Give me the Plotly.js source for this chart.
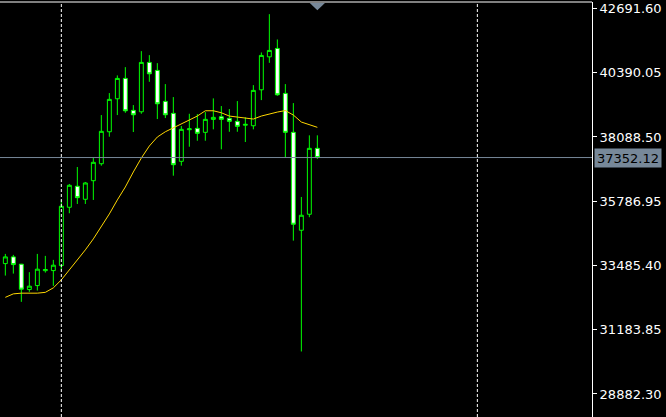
<!DOCTYPE html>
<html>
<head>
<meta charset="utf-8">
<script src="https://cdn.plot.ly/plotly-3.0.1.min.js"></script>
<style>html,body{margin:0;padding:0;background:#000;}#chart{width:666px;height:417px;}</style>
</head>
<body>
<div id="chart"></div>
<script>
// OHLC values (one bar per entry)
const openV = [33553, 33793, 33532, 32623, 32766, 33300, 33303, 33482, 35571, 36323, 35857, 36523, 37131, 38276, 39457, 40187, 39042, 38992, 40760, 40473, 39364, 38935, 37217, 38350, 38398, 38255, 38720, 38813, 38756, 38648, 38510, 38491, 39779, 40960, 41260, 39650, 38255, 34748, 35321, 37682];
const highV = [33900, 33865, 33543, 33246, 33900, 33829, 33686, 35833, 36405, 37013, 36477, 37335, 38874, 39661, 40294, 40591, 39232, 41164, 41021, 40734, 39983, 39518, 38480, 38920, 38910, 38981, 39471, 39196, 39089, 39375, 38792, 39947, 41117, 42488, 41582, 39983, 39303, 35940, 38148, 38148];
const lowV = [33124, 33195, 32183, 32541, 32587, 33231, 32755, 33303, 35357, 35689, 35689, 35833, 37060, 38098, 38874, 38956, 38266, 38920, 40065, 38731, 38766, 36702, 37060, 37740, 37954, 37954, 38362, 37647, 38276, 38276, 37908, 38362, 39410, 40745, 39564, 37346, 34376, 30405, 35214, 37300];
const closeV = [33793, 33518, 32637, 32745, 33353, 33340, 33496, 35607, 36359, 35915, 36441, 37181, 38291, 39436, 40187, 39027, 38885, 40760, 40352, 39278, 38885, 37096, 38362, 38380, 38219, 38720, 38792, 38720, 38648, 38469, 38540, 39758, 41010, 41189, 39600, 38255, 34963, 35285, 37682, 37352.12];
// moving average line
const maV = [32344, 32469, 32494, 32494, 32494, 32523, 32684, 32970, 33328, 33650, 34044, 34437, 34867, 35332, 35833, 36298, 36835, 37335, 37765, 38087, 38276, 38420, 38577, 38695, 38838, 39028, 39028, 38956, 38838, 38802, 38777, 38731, 38838, 38920, 38981, 39035, 38874, 38624, 38526, 38434];
// price axis ticks
const tickVals = [28882.30, 31183.85, 33485.40, 35786.95, 38088.50, 40390.05, 42691.60];
const tickText = ["28882.30", "31183.85", "33485.40", "35786.95", "38088.50", "40390.05", "42691.60"];
const lastPrice = 37352.12;
const lastPriceText = "37352.12";
const separators = [7, 59];

const bars = openV.map((_, i) => i);

const traces = [
  {
    type: 'candlestick',
    x: bars, open: openV, high: highV, low: lowV, close: closeV,
    increasing: {line: {color: '#00ff00', width: 1}, fillcolor: '#000000'},
    decreasing: {line: {color: '#00ff00', width: 1}, fillcolor: '#ffffff'},
    whiskerwidth: 0,
    hoverinfo: 'skip', showlegend: false
  },
  {
    type: 'scatter', mode: 'lines', x: bars, y: maV,
    line: {color: '#ffd700', width: 1}, hoverinfo: 'skip', showlegend: false
  }
];

const shapes = [];
separators.forEach(s => shapes.push({type: 'line', xref: 'x', yref: 'paper', x0: s, x1: s, y0: 0, y1: 1,
  line: {color: '#ffffff', width: 1, dash: '3px,2px'}}));
shapes.push({type: 'line', xref: 'paper', yref: 'y', x0: 0, x1: 1, y0: lastPrice, y1: lastPrice,
  line: {color: '#778899', width: 1}});
shapes.push({type: 'line', xref: 'paper', yref: 'paper', x0: 0, x1: 1, y0: 1, y1: 1,
  line: {color: '#ffffff', width: 1}});
const lastBar = bars[bars.length - 1];
shapes.push({type: 'path', xref: 'x', yref: 'paper',
  path: `M ${lastBar - 0.95},0.9975 L ${lastBar + 0.95},0.9975 L ${lastBar},0.980 Z`,
  fillcolor: '#778899', line: {width: 0}});

const layout = {
  width: 666, height: 417,
  margin: {l: 0, r: 74, t: 2, b: 0, pad: 0},
  paper_bgcolor: '#000000', plot_bgcolor: '#000000',
  showlegend: false,
  xaxis: {range: [-0.667, 73.33], showticklabels: false, showgrid: false, zeroline: false,
    showline: false, ticks: '', rangeslider: {visible: false}, fixedrange: true},
  yaxis: {side: 'right', range: [28058, 42924], showgrid: false, zeroline: false,
    showline: true, linecolor: '#ffffff', linewidth: 1,
    ticks: 'outside', ticklen: 4, tickcolor: '#ffffff', tickwidth: 1,
    tickvals: tickVals, ticktext: tickText,
    tickfont: {family: 'DejaVu Sans', size: 13, color: '#ffffff'}, fixedrange: true},
  shapes: shapes,
  annotations: [{
    xref: 'paper', yref: 'y', x: 1, y: lastPrice, xanchor: 'left', yanchor: 'middle',
    xshift: 2, text: lastPriceText, showarrow: false,
    bgcolor: '#778899', borderpad: 1, width: 64, height: 16, align: 'center',
    font: {family: 'DejaVu Sans', size: 13, color: '#000000'}
  }]
};

Plotly.newPlot('chart', traces, layout, {displayModeBar: false, staticPlot: true});
</script>
</body>
</html>
